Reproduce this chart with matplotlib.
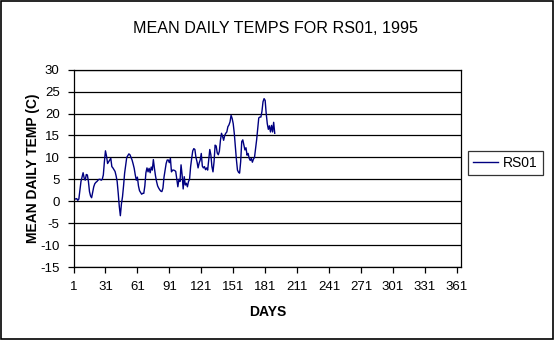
"""
Mean daily temperatures for station RS01, 1995 (Excel-style line chart).
"""

import matplotlib

matplotlib.use("Agg")
import matplotlib.pyplot as plt
from matplotlib.patches import Rectangle

# mean daily temperature (C), one value per day starting at day 1
temps_c = [
    1.1, 0.6, 0.5, 0.6, 0.2, 0.5, 2.5, 4.5, 5.5, 6.5,
    5.3, 4.8, 6.1, 6.0, 4.5, 2.2, 1.2, 0.8, 2.0, 3.3,
    4.0, 4.3, 4.5, 4.8, 5.0, 5.0, 4.8, 5.0, 6.0, 9.0,
    11.5, 10.3, 8.6, 9.0, 9.4, 9.8, 7.9, 7.6, 7.2, 6.8,
    5.8, 4.5, 1.8, -1.2, -3.3, -0.6, 1.0, 3.5, 6.4, 8.2,
    10.0, 10.4, 10.8, 10.6, 10.0, 9.4, 8.5, 7.5, 6.0, 4.8,
    5.5, 3.5, 2.4, 2.0, 1.6, 1.8, 1.8, 3.5, 6.5, 7.6,
    6.7, 7.5, 6.5, 7.8, 7.1, 9.5, 7.5, 5.8, 4.5, 3.5,
    3.0, 2.6, 2.3, 2.2, 3.0, 5.5, 7.0, 8.6, 9.4, 9.4,
    8.8, 9.8, 6.7, 7.1, 7.1, 7.0, 6.8, 5.0, 3.3, 5.0,
    4.5, 8.3, 6.0, 2.8, 5.6, 3.7, 4.1, 3.3, 4.5, 5.0,
    7.9, 9.8, 11.5, 12.0, 11.8, 10.0, 9.0, 7.6, 8.7, 9.4,
    10.9, 8.0, 7.6, 7.9, 7.2, 7.6, 7.1, 9.5, 11.8, 10.6,
    7.9, 6.7, 9.0, 12.8, 12.6, 11.0, 10.6, 11.4, 13.9, 15.5,
    14.8, 13.9, 15.0, 15.5, 15.8, 17.0, 17.4, 18.1, 19.6, 18.9,
    17.7, 15.5, 12.4, 9.5, 7.1, 6.6, 6.4, 9.0, 13.6, 14.0,
    12.9, 11.7, 12.2, 10.5, 10.9, 9.8, 9.3, 9.8, 8.9, 9.6,
    10.0, 12.0, 14.0, 16.5, 19.0, 19.2, 19.2, 20.5, 22.7, 23.4,
    23.0, 20.0, 17.7, 16.4, 17.2, 15.8, 17.3, 15.8, 18.0, 15.5,
]
days = list(range(1, len(temps_c) + 1))

x_ticks = list(range(1, 362, 30))
y_ticks = list(range(-15, 31, 5))

FONT = "Liberation Sans"
LINE_COLOR = "#000080"

plt.rcParams["axes.unicode_minus"] = False

fig = plt.figure(figsize=(5.54, 3.40), dpi=100)
ax = fig.add_axes([0.1327, 0.2147, 0.6995, 0.5803])

ax.plot(days, temps_c, color=LINE_COLOR, lw=1.0, label="RS01")

ax.set_xlim(1, 365)
ax.set_ylim(-15, 30)
ax.set_xticks(x_ticks)
ax.set_yticks(y_ticks)
ax.yaxis.grid(True, color="black", lw=0.9)
ax.set_axisbelow(True)

for side in ax.spines.values():
    side.set_color("black")
    side.set_linewidth(0.9)

ax.tick_params(axis="both", direction="out", length=4, width=0.9,
               labelsize=9.5, pad=6, colors="black")
for lab in ax.get_xticklabels() + ax.get_yticklabels():
    lab.set_fontfamily(FONT)

ax.set_xlabel("DAYS", fontfamily=FONT, fontweight="bold", fontsize=10, labelpad=9)
ax.set_ylabel("MEAN DAILY TEMP (C)", fontfamily=FONT, fontweight="bold",
              fontsize=10, labelpad=0)

fig.text(0.4965, 0.915, "MEAN DAILY TEMPS FOR RS01, 1995", ha="center",
         va="center", fontfamily=FONT, fontsize=11.6)

leg = fig.legend(loc="center", bbox_to_anchor=(0.912, 0.52), frameon=True,
                 fancybox=False, edgecolor="black", handlelength=1.8,
                 handletextpad=0.4, borderpad=0.35, prop={"family": FONT, "size": 10})
leg.get_frame().set_linewidth(0.9)

# outer chart border
fig.patches.append(Rectangle((0.001, 0.002), 0.997, 0.996, transform=fig.transFigure,
                             fill=False, edgecolor="black", lw=1.2))

fig.savefig("out.png", dpi=100)
